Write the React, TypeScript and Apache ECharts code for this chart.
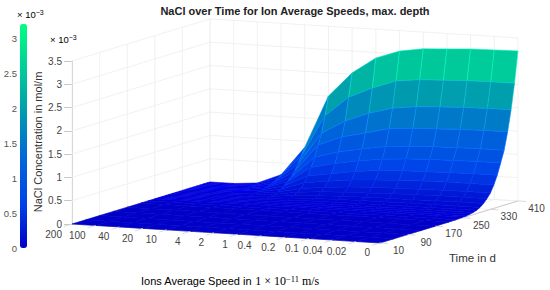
import React, { useEffect, useRef } from "react";
import * as echarts from "echarts";

const speedLabels = ["200", "100", "40", "20", "10", "4", "2", "1", "0.4", "0.2", "0.1", "0.04", "0.02", "0"];
const timeTicks = [10, 90, 170, 250, 330, 410];
const zTicks = [0, 0.5, 1, 1.5, 2, 2.5, 3, 3.5];
const rowTimes = [410, 400, 390, 380, 370, 360, 350, 340, 330, 320, 310, 300, 290, 280, 270, 260, 250, 230, 210, 170, 130, 90, 50, 10];
// NaCl concentration (x 1e-3 mol/m); one row per time, one column per speed
const concentration = [
  [0, 0, 0.04, 0.25, 0.87, 2.0, 2.53, 2.88, 3.06, 3.14, 3.17, 3.2, 3.21, 3.22],
  [0, 0, 0.03, 0.2, 0.7, 1.6, 2.03, 2.26, 2.44, 2.5, 2.52, 2.54, 2.55, 2.55],
  [0, 0, 0.02, 0.15, 0.55, 1.25, 1.54, 1.74, 1.88, 1.94, 1.97, 1.99, 2.0, 2.0],
  [0, 0, 0.015, 0.12, 0.42, 1.02, 1.22, 1.34, 1.46, 1.5, 1.52, 1.54, 1.55, 1.55],
  [0, 0, 0.01, 0.09, 0.32, 0.78, 0.92, 1.02, 1.1, 1.14, 1.16, 1.17, 1.18, 1.18],
  [0, 0, 0.008, 0.07, 0.25, 0.58, 0.7, 0.79, 0.85, 0.89, 0.91, 0.92, 0.93, 0.93],
  [0, 0, 0.005, 0.05, 0.18, 0.42, 0.5, 0.58, 0.63, 0.66, 0.67, 0.68, 0.69, 0.69],
  [0, 0, 0.004, 0.035, 0.13, 0.3, 0.36, 0.42, 0.45, 0.47, 0.49, 0.5, 0.5, 0.5],
  [0, 0, 0.002, 0.025, 0.09, 0.2, 0.25, 0.29, 0.32, 0.33, 0.34, 0.35, 0.35, 0.35],
  [0, 0, 0.001, 0.015, 0.06, 0.14, 0.18, 0.2, 0.22, 0.23, 0.24, 0.25, 0.25, 0.25],
  [0, 0, 0, 0.01, 0.04, 0.09, 0.12, 0.14, 0.15, 0.16, 0.16, 0.17, 0.17, 0.17],
  [0, 0, 0, 0.006, 0.025, 0.06, 0.08, 0.09, 0.1, 0.1, 0.11, 0.11, 0.11, 0.11],
  [0, 0, 0, 0.004, 0.015, 0.035, 0.05, 0.055, 0.06, 0.065, 0.07, 0.07, 0.07, 0.07],
  [0, 0, 0, 0.002, 0.008, 0.02, 0.03, 0.035, 0.04, 0.04, 0.045, 0.045, 0.045, 0.045],
  [0, 0, 0, 0.001, 0.005, 0.012, 0.018, 0.022, 0.025, 0.027, 0.03, 0.03, 0.03, 0.03],
  [0, 0, 0, 0, 0.003, 0.007, 0.01, 0.012, 0.014, 0.015, 0.016, 0.017, 0.018, 0.018],
  [0, 0, 0, 0, 0.001, 0.004, 0.005, 0.006, 0.007, 0.008, 0.009, 0.01, 0.01, 0.01],
  [0, 0, 0, 0, 0, 0.001, 0.002, 0.002, 0.003, 0.003, 0.003, 0.004, 0.004, 0.004],
  [0, 0, 0, 0, 0, 0, 0, 0.001, 0.001, 0.001, 0.001, 0.001, 0.001, 0.001],
  [0, 0, 0, 0, 0, 0, 0, 0, 0, 0, 0, 0, 0, 0],
  [0, 0, 0, 0, 0, 0, 0, 0, 0, 0, 0, 0, 0, 0],
  [0, 0, 0, 0, 0, 0, 0, 0, 0, 0, 0, 0, 0, 0],
  [0, 0, 0, 0, 0, 0, 0, 0, 0, 0, 0, 0, 0, 0],
  [0, 0, 0, 0, 0, 0, 0, 0, 0, 0, 0, 0, 0, 0],
];
const colorStops = ["#0000c8", "#0044e8", "#0066d8", "#0099b0", "#00cc99", "#00ff80"];

const FONT = "'Liberation Sans', Arial, sans-serif";
const Z_MAX = 3.5;
const project = (idx: number, t: number, z: number): number[] => [
  72 + 23.69 * idx + (138 * (t - 10)) / 400,
  224 + 1.46 * idx - (42 * (t - 10)) / 400 - 46.6 * z,
];

export default function App() {
  const ref = useRef<HTMLDivElement>(null);
  useEffect(() => {
    const chart = echarts.init(ref.current!, undefined, { renderer: "svg" });
    const lastIdx = speedLabels.length - 1;
    const tMin = timeTicks[0];
    const tMax = timeTicks[timeTicks.length - 1];

    const wallLines: number[][] = [];
    zTicks.forEach((z) => {
      wallLines.push([0, tMin, z, 0, tMax, z]);
      wallLines.push([0, tMax, z, lastIdx, tMax, z]);
    });
    timeTicks.forEach((t) => {
      wallLines.push([0, t, 0, 0, t, Z_MAX]);
      wallLines.push([0, t, 0, lastIdx, t, 0]);
    });
    speedLabels.forEach((_, i) => {
      wallLines.push([i, tMax, 0, i, tMax, Z_MAX]);
      wallLines.push([i, tMin, 0, i, tMax, 0]);
    });
    wallLines.push([lastIdx, tMin, 0, lastIdx, tMax, 0]);

    const cells: number[][] = [];
    for (let k = 0; k < rowTimes.length - 1; k++) {
      for (let i = 0; i < lastIdx; i++) {
        cells.push([i, k, concentration[k + 1][i + 1]]);
      }
    }

    const axisSegments: number[][] = [
      [0, tMin, 0, lastIdx, tMin, 0],
      [lastIdx, tMin, 0, lastIdx, tMax, 0],
    ];

    const segmentSeries = (data: number[][], stroke: string, width: number) => ({
      type: "custom",
      coordinateSystem: "cartesian2d",
      xAxisIndex: 0,
      yAxisIndex: 0,
      silent: true,
      clip: false,
      data,
      renderItem: (_: any, api: any) => {
        const a = api.coord(project(api.value(0), api.value(1), api.value(2)));
        const b = api.coord(project(api.value(3), api.value(4), api.value(5)));
        return {
          type: "line",
          shape: { x1: a[0], y1: a[1], x2: b[0], y2: b[1] },
          style: { stroke, lineWidth: width, fill: "none" },
        };
      },
    });

    const speedTickMarks = speedLabels.map((_, i) => i);
    const option: any = {
      animation: false,
      backgroundColor: "#ffffff",
      title: {
        text: "NaCl over Time for Ion Average Speeds, max. depth",
        left: 295,
        top: 5,
        textAlign: "center",
        padding: 0,
        textStyle: { fontFamily: FONT, fontSize: 11, fontWeight: "bold", color: "#222222" },
      },
      grid: [
        { left: 0, top: 0, width: 550, height: 290 },
        { left: 72, top: 61, width: 1, height: 163 },
        { left: 20, top: 24, width: 7, height: 224 },
      ],
      xAxis: [
        { type: "value", min: 0, max: 550, show: false, gridIndex: 0 },
        { type: "value", min: 0, max: 1, show: false, gridIndex: 1 },
        { type: "value", min: 0, max: 1, show: false, gridIndex: 2 },
      ],
      yAxis: [
        { type: "value", min: 0, max: 290, inverse: true, show: false, gridIndex: 0 },
        {
          type: "value",
          gridIndex: 1,
          min: 0,
          max: Z_MAX,
          interval: 0.5,
          axisLine: { show: true, lineStyle: { color: "#c8c8c8" } },
          axisTick: { show: true, length: 8, lineStyle: { color: "#c8c8c8" } },
          axisLabel: { color: "#444444", fontSize: 10, fontFamily: FONT, margin: 10 },
          splitLine: { show: false },
        },
        {
          type: "value",
          gridIndex: 2,
          min: 0,
          max: 3.21,
          interval: 0.5,
          axisLine: { show: false },
          axisTick: { show: false },
          axisLabel: { color: "#555555", fontSize: 9.5, fontFamily: FONT, margin: 3, showMaxLabel: false },
          splitLine: { show: false },
        },
      ],
      visualMap: {
        type: "continuous",
        show: true,
        min: 0,
        max: 3.21,
        left: 20,
        top: 24,
        padding: 0,
        itemWidth: 7,
        itemHeight: 224,
        calculable: false,
        seriesIndex: 2,
        dimension: 2,
        inRange: { color: colorStops },
        text: [],
      },
      series: [
        segmentSeries(wallLines, "#eeeeee", 0.8),
        segmentSeries(axisSegments, "#cfcfcf", 1),
        {
          type: "custom",
          coordinateSystem: "cartesian2d",
          xAxisIndex: 0,
          yAxisIndex: 0,
          silent: true,
          clip: false,
          data: cells,
          renderItem: (_: any, api: any) => {
            const i = api.value(0);
            const k = api.value(1);
            const corner = (ii: number, kk: number) =>
              api.coord(project(ii, rowTimes[kk], concentration[kk][ii]));
            const fill = api.visual("color");
            const shade = k < 8 ? -0.22 : k < 18 ? -0.14 : 0;
            return {
              type: "polygon",
              shape: { points: [corner(i, k), corner(i + 1, k), corner(i + 1, k + 1), corner(i, k + 1)] },
              style: { fill, stroke: echarts.color.lift(fill, shade), lineWidth: 0.6 },
            };
          },
        },
        {
          type: "custom",
          coordinateSystem: "cartesian2d",
          xAxisIndex: 0,
          yAxisIndex: 0,
          silent: true,
          clip: false,
          data: speedTickMarks,
          renderItem: (_: any, api: any) => {
            const i = api.value(0);
            const p = api.coord(project(i, tMin, 0));
            return {
              type: "group",
              children: [
                {
                  type: "line",
                  shape: { x1: p[0], y1: p[1], x2: p[0] - 8, y2: p[1] + 2.4 },
                  style: { stroke: "#d4d4d4", lineWidth: 0.8 },
                },
                {
                  type: "text",
                  style: {
                    text: speedLabels[i],
                    x: p[0] - 10,
                    y: p[1] + 10,
                    textAlign: "right",
                    textVerticalAlign: "middle",
                    fontSize: 10,
                    fontFamily: FONT,
                    fill: "#444444",
                  },
                },
              ],
            };
          },
        },
        {
          type: "custom",
          coordinateSystem: "cartesian2d",
          xAxisIndex: 0,
          yAxisIndex: 0,
          silent: true,
          clip: false,
          data: timeTicks,
          renderItem: (_: any, api: any) => {
            const t = api.value(0);
            const p = api.coord(project(lastIdx, t, 0));
            return {
              type: "group",
              children: [
                {
                  type: "line",
                  shape: { x1: p[0], y1: p[1], x2: p[0] + 8, y2: p[1] + 0.5 },
                  style: { stroke: "#cfcfcf", lineWidth: 0.8 },
                },
                {
                  type: "text",
                  style: {
                    text: String(t),
                    x: p[0] + 18.5,
                    y: p[1] + 7.5,
                    textAlign: "center",
                    textVerticalAlign: "middle",
                    fontSize: 10,
                    fontFamily: FONT,
                    fill: "#444444",
                  },
                },
              ],
            };
          },
        },
      ],
      graphic: [
        {
          type: "text",
          x: 38,
          y: 142,
          rotation: Math.PI / 2,
          style: {
            text: "NaCl Concentration in mol/m",
            textAlign: "center",
            textVerticalAlign: "middle",
            fontSize: 11,
            fontFamily: FONT,
            fill: "#333333",
          },
        },
        {
          type: "text",
          x: 449,
          y: 258,
          style: {
            text: "Time in d",
            textVerticalAlign: "middle",
            fontSize: 11.5,
            fontFamily: FONT,
            fill: "#333333",
          },
        },
        {
          type: "text",
          x: 141,
          y: 281,
          style: {
            text: "{a|Ions Average Speed in }{b|1 × 10}{c|−11}{b| m/s}",
            textVerticalAlign: "middle",
            rich: {
              a: { fontSize: 11, fontFamily: FONT, color: "#333333" },
              b: { fontSize: 12, fontFamily: "'Liberation Serif', serif", color: "#333333" },
              c: { fontSize: 8.5, fontFamily: "'Liberation Serif', serif", color: "#333333", verticalAlign: "top", padding: [0, 0, 4, 0] },
            },
          },
        },
        {
          type: "text",
          x: 17,
          y: 14,
          style: {
            text: "{b|× 10}{c|−3}",
            textVerticalAlign: "middle",
            rich: {
              b: { fontSize: 9.5, fontFamily: FONT, color: "#555555" },
              c: { fontSize: 7, fontFamily: FONT, color: "#555555", verticalAlign: "top", padding: [0, 0, 3, 0] },
            },
          },
        },
        {
          type: "text",
          x: 50,
          y: 39,
          style: {
            text: "{b|× 10}{c|−3}",
            textVerticalAlign: "middle",
            rich: {
              b: { fontSize: 9.5, fontFamily: FONT, color: "#555555" },
              c: { fontSize: 7, fontFamily: FONT, color: "#555555", verticalAlign: "top", padding: [0, 0, 3, 0] },
            },
          },
        },
      ],
    };
    chart.setOption(option);
    return () => chart.dispose();
  }, []);
  return (
    <div
      ref={ref}
      style={{ position: "fixed", left: 0, top: 0, width: 550, height: 290, background: "#fff" }}
    />
  );
}
